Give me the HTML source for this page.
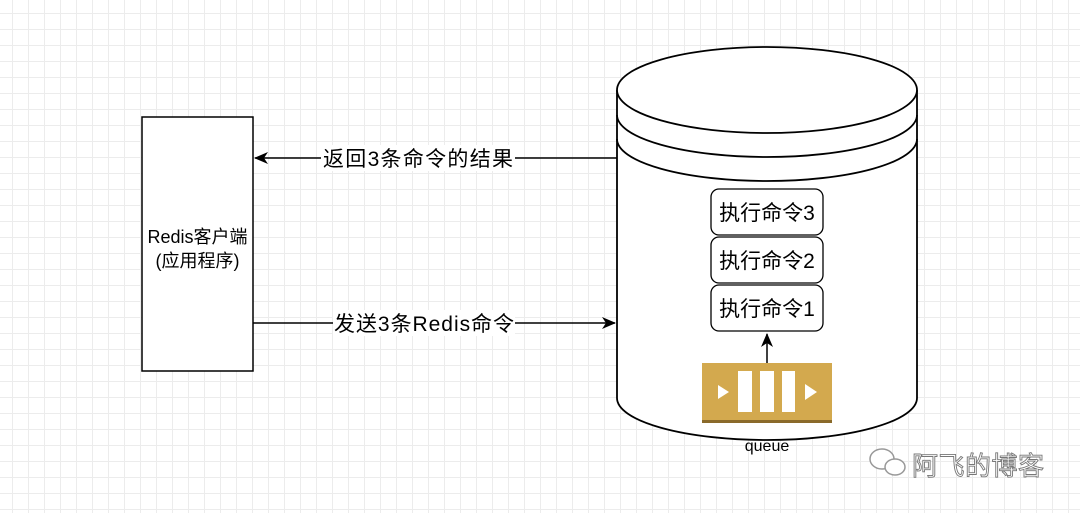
<!DOCTYPE html>
<html><head><meta charset="utf-8"><style>
html,body{margin:0;padding:0;}
body{width:1080px;height:513px;overflow:hidden;background:#fff;
background-image:linear-gradient(#ececec 1px,transparent 1px),linear-gradient(90deg,#ececec 1px,transparent 1px);
background-size:16px 16px;background-position:-4px -3px;font-family:"Liberation Sans","Noto Sans CJK SC",sans-serif;}
</style></head><body>
<svg width="1080" height="513" viewBox="0 0 1080 513" xmlns="http://www.w3.org/2000/svg" style="position:absolute;left:0;top:0">
<defs><marker id="a" markerWidth="16" markerHeight="16" refX="13" refY="8" orient="auto" markerUnits="userSpaceOnUse"><path d="M0,2 L14,8 L0,14 L4,8 Z" fill="#000"/></marker></defs>
<rect x="142" y="117" width="111" height="254" fill="#fff" stroke="#000" stroke-width="1.5"/>
<text x="197.5" y="243" font-size="18" text-anchor="middle">Redis客户端</text>
<text x="197.5" y="267" font-size="18" text-anchor="middle">(应用程序)</text>
<line x1="617" y1="158" x2="255" y2="158" stroke="#000" stroke-width="1.5" marker-end="url(#a)"/>
<line x1="253" y1="323" x2="615" y2="323" stroke="#000" stroke-width="1.5" marker-end="url(#a)"/>
<rect x="321" y="145" width="194" height="26" fill="#fff"/>
<text x="418" y="166" font-size="21" text-anchor="middle" textLength="190">返回3条命令的结果</text>
<rect x="333" y="310" width="182" height="26" fill="#fff"/>
<text x="424" y="331" font-size="21" text-anchor="middle" textLength="180">发送3条Redis命令</text>
<path d="M617,90 L617,398 A150,42 0 0 0 917,398 L917,90" fill="#fff" stroke="#000" stroke-width="1.8"/>
<ellipse cx="767" cy="90" rx="150" ry="43" fill="#fff" stroke="#000" stroke-width="1.8"/>
<path d="M617,115 A150,42 0 0 0 917,115" fill="none" stroke="#000" stroke-width="1.8"/>
<path d="M617,139 A150,42 0 0 0 917,139" fill="none" stroke="#000" stroke-width="1.8"/>
<rect x="711" y="189" width="112" height="46" rx="8" fill="#fff" stroke="#000" stroke-width="1.3"/>
<rect x="711" y="237" width="112" height="46" rx="8" fill="#fff" stroke="#000" stroke-width="1.3"/>
<rect x="711" y="285" width="112" height="46" rx="8" fill="#fff" stroke="#000" stroke-width="1.3"/>
<text x="767" y="220" font-size="21" text-anchor="middle">执行命令3</text>
<text x="767" y="268" font-size="21" text-anchor="middle">执行命令2</text>
<text x="767" y="316" font-size="21" text-anchor="middle">执行命令1</text>
<line x1="767" y1="363" x2="767" y2="334" stroke="#000" stroke-width="1.5" marker-end="url(#a)"/>
<rect x="702" y="363" width="130" height="60" fill="#d3a94e"/>
<rect x="702" y="420" width="130" height="3" fill="#8a6a2a"/>
<rect x="738" y="371" width="14" height="41" fill="#fff"/>
<rect x="760" y="371" width="14" height="41" fill="#fff"/>
<rect x="782" y="371" width="13" height="41" fill="#fff"/>
<path d="M718,385 L729,392 L718,399 Z" fill="#fff"/>
<path d="M805,384 L817,392 L805,400 Z" fill="#fff"/>
<text x="767" y="451" font-size="16" text-anchor="middle">queue</text>
<g fill="#fff" stroke="#999" stroke-width="1.5">
<ellipse cx="882" cy="459" rx="12" ry="10"/>
<ellipse cx="895" cy="467" rx="10" ry="8"/>
</g>
<text x="912" y="475" font-size="26" fill="#fff" stroke="#777" stroke-width="0.9" textLength="132">阿飞的博客</text>
</svg>
</body></html>
